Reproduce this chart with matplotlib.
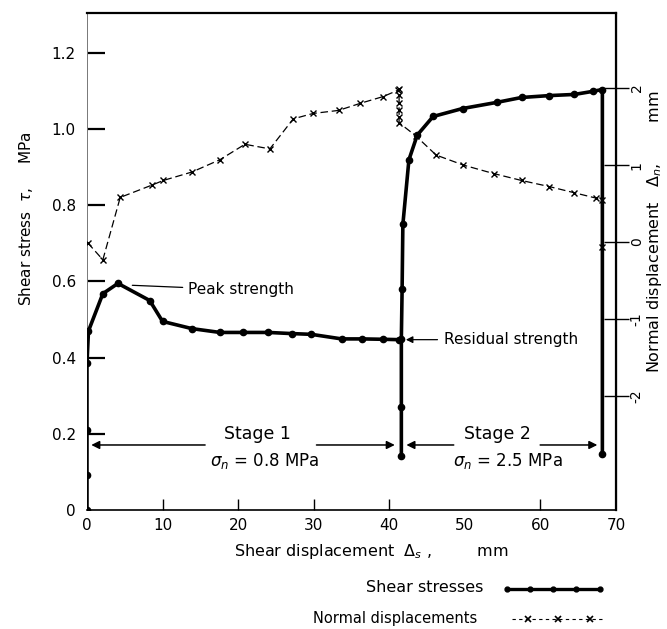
import matplotlib
matplotlib.use("Agg")
import matplotlib.pyplot as plt
from matplotlib.lines import Line2D

# ---------------- data ----------------
stage1_disp = [0, 0, 0, 0, 0.2, 2.1, 4.1, 8.3, 10.0, 13.9, 17.6, 20.7, 24.0, 27.1,
               29.7, 33.7, 36.4, 39.2, 41.3]
stage1_tau = [0, 0.09, 0.21, 0.385, 0.47, 0.568, 0.595, 0.55, 0.495, 0.476, 0.466,
              0.466, 0.466, 0.463, 0.461, 0.449, 0.449, 0.448, 0.447]

stage2_disp = [41.6, 41.6, 41.6, 41.7, 41.8, 42.6, 43.7, 45.8, 49.7, 54.2, 57.5,
               61.2, 64.5, 66.9, 68.2, 68.2]
stage2_tau = [0.14, 0.27, 0.45, 0.58, 0.75, 0.92, 0.985, 1.034, 1.055, 1.071, 1.084,
              1.089, 1.092, 1.100, 1.105, 0.147]

normal_disp_x = [0.1, 2.1, 4.4, 8.6, 10.1, 13.9, 17.6, 20.9, 24.2, 27.3, 29.9, 33.3,
                 36.1, 39.2, 41.1, 41.3, 41.3, 41.3, 41.3, 41.3, 41.3, 43.5, 46.2,
                 49.8, 53.8, 57.5, 61.2, 64.5, 67.4, 68.2, 68.2]
normal_disp_mm = [-0.01, -0.23, 0.58, 0.74, 0.80, 0.91, 1.07, 1.27, 1.21, 1.60, 1.67,
                  1.71, 1.80, 1.89, 1.97, 1.99, 1.91, 1.81, 1.71, 1.62, 1.55, 1.38,
                  1.13, 1.00, 0.89, 0.80, 0.72, 0.64, 0.57, 0.55, -0.06]

x_ticks = [0, 10, 20, 30, 40, 50, 60, 70]
y_ticks = [0, 0.2, 0.4, 0.6, 0.8, 1.0, 1.2]
y_tick_labels = ["0", "0.2", "0.4", "0.6", "0.8", "1.0", "1.2"]
right_ticks = [-2, -1, 0, 1, 2]

# ---------------- figure ----------------
plt.rcParams['font.family'] = ['DejaVu Sans']
fig = plt.figure(figsize=(6.67, 6.29), dpi=100)
ax = fig.add_axes([0.1304, 0.1892, 0.7931, 0.790])
ax2 = ax.twinx()

ax.set_xlim(0, 70)
ax.set_ylim(-0.001, 1.306)
ax2.set_ylim(-3.48, 2.974)

# shear stresses
ax.plot(stage1_disp, stage1_tau, color='black', lw=2.6, marker='o', ms=4.5,
        solid_joinstyle='round', zorder=5)
ax.plot(stage2_disp, stage2_tau, color='black', lw=2.6, marker='o', ms=4.5,
        solid_joinstyle='round', zorder=5)

# normal displacements
ax2.plot(normal_disp_x, normal_disp_mm, color='black', lw=0.9, ls=(0, (6, 3)),
         marker='x', ms=5, mew=1.0, zorder=4)

# spines
ax.spines['left'].set_linewidth(0.7)
ax.spines['left'].set_color('#777777')
ax.spines['bottom'].set_linewidth(1.2)
ax.spines['top'].set_linewidth(1.6)
ax2.spines['right'].set_linewidth(1.6)
for s in ['left', 'top', 'bottom']:
    ax2.spines[s].set_visible(False)

# ticks
ax.set_xticks(x_ticks)
ax.set_xticklabels([str(v) for v in x_ticks], fontsize=11)
ax.tick_params(axis='x', direction='in', length=8, width=1.0, pad=6)
for t, v in zip(ax.xaxis.get_major_ticks(), x_ticks):
    if v in (0, 50, 70):
        t.tick1line.set_visible(False)
ax.set_yticks(y_ticks)
ax.set_yticklabels(y_tick_labels, fontsize=11)
ax.tick_params(axis='y', direction='in', length=13, width=1.6, pad=8)
ax.yaxis.get_major_ticks()[0].tick1line.set_visible(False)

ax2.set_yticks(right_ticks)
ax2.set_yticklabels([str(v) for v in right_ticks], fontsize=10, rotation=90,
                    va='center')
ax2.tick_params(axis='y', direction='inout', length=18, width=1.0, pad=1)

# axis labels
ax.set_xlabel("Shear displacement  $\\Delta_s$ ,         mm", fontsize=11.5)
ax.xaxis.set_label_coords(0.537, -0.065)
ax.set_ylabel("Shear stress  $\\tau$,     MPa", fontsize=11)
ax.yaxis.set_label_coords(-0.098, 0.587)
ax2.set_ylabel("Normal displacement   $\\Delta_n$,        mm", fontsize=11.5)
ax2.yaxis.set_label_coords(1.054, 0.56)

# stage arrows
arr = dict(arrowstyle='-|>', color='black', lw=1.1, mutation_scale=12)
y_arrow = 0.17
ax.annotate('', xy=(0.2, y_arrow), xytext=(16, y_arrow), arrowprops=arr)
ax.annotate('', xy=(41.1, y_arrow), xytext=(30, y_arrow), arrowprops=arr)
ax.annotate('', xy=(41.9, y_arrow), xytext=(48.9, y_arrow), arrowprops=arr)
ax.annotate('', xy=(67.9, y_arrow), xytext=(59.6, y_arrow), arrowprops=arr)
ax.text(22.5, 0.2, "Stage 1", fontsize=12.5, ha='center', va='center')
ax.text(23.5, 0.128, "$\\sigma_n$ = 0.8 MPa", fontsize=12, ha='center', va='center')
ax.text(54.3, 0.2, "Stage 2", fontsize=12.5, ha='center', va='center')
ax.text(55.7, 0.128, "$\\sigma_n$ = 2.5 MPa", fontsize=12, ha='center', va='center')

# annotations
ax.annotate("Peak strength", xy=(6.0, 0.59), xytext=(13.4, 0.578),
            fontsize=11, va='center', ha='left',
            arrowprops=dict(arrowstyle='-', color='black', lw=0.9,
                            shrinkA=2, shrinkB=0))
ax.annotate("Residual strength", xy=(42.2, 0.447), xytext=(47.3, 0.447),
            fontsize=11, va='center', ha='left',
            arrowprops=dict(arrowstyle='-|>', color='black', lw=0.9,
                            mutation_scale=10, shrinkA=3, shrinkB=0))

# legend (figure coordinates)
fig.text(483 / 667, 1 - 588 / 629, "Shear stresses", fontsize=11.5, ha='right',
         va='center')
fig.add_artist(Line2D([507 / 667, 600 / 667], [1 - 589 / 629] * 2, color='black',
                      lw=2.4, transform=fig.transFigure))
for xx in [507, 530, 553, 576, 600]:
    fig.add_artist(Line2D([xx / 667], [1 - 589 / 629], color='black', marker='o',
                          ms=3.5, transform=fig.transFigure))
fig.text(477 / 667, 1 - 619 / 629, "Normal displacements", fontsize=10.5,
         ha='right', va='center')
fig.add_artist(Line2D([512 / 667, 605 / 667], [1 - 619 / 629] * 2, color='black',
                      lw=0.8, ls=(0, (3, 3)), transform=fig.transFigure))
for xx in [528, 558, 590]:
    fig.add_artist(Line2D([xx / 667], [1 - 619 / 629], color='black', marker='x',
                          ms=5, mew=1.2, ls='none', transform=fig.transFigure))

fig.savefig("out.png", dpi=100, facecolor='white')
